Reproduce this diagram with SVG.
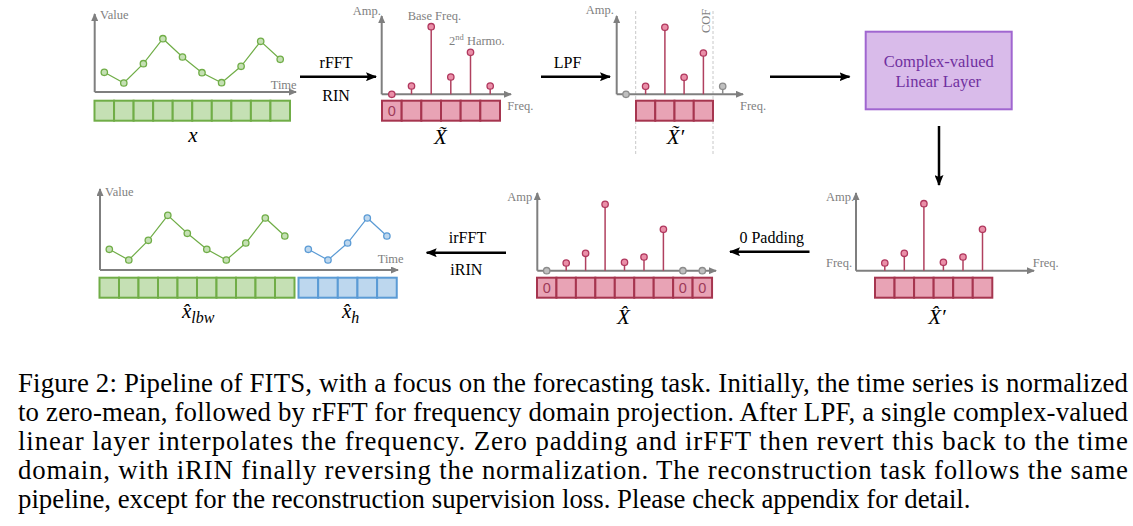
<svg xmlns="http://www.w3.org/2000/svg" width="1133" height="526" viewBox="0 0 1133 526">
<style>
.ax{stroke:#7f7f7f;stroke-width:2;fill:none}
.arr{stroke:#000;stroke-width:2.5;fill:none}
.lbl{font-family:"Liberation Serif",serif;fill:#7f7f7f;font-size:12.5px}
.op{font-family:"Liberation Serif",serif;fill:#000;font-size:16px}
.math{font-family:"Liberation Serif",serif;font-style:italic;fill:#000;font-size:21px}
.gc{fill:#c5e0b4;stroke:#70ad47;stroke-width:2}
.gp{fill:#c5e0b4;stroke:#70ad47;stroke-width:1.3}
.gl{fill:none;stroke:#70ad47;stroke-width:1.2}
.bc{fill:#bdd7ee;stroke:#5b9bd5;stroke-width:2}
.bp{fill:#bdd7ee;stroke:#5b9bd5;stroke-width:1.3}
.bl{fill:none;stroke:#5b9bd5;stroke-width:1.2}
.pc{fill:#e8a3b5;stroke:#a6354f;stroke-width:2}
.stem{stroke:#b0405f;stroke-width:1.5}
.pp{fill:#ea8fa8;stroke:#b0385e;stroke-width:1.3}
.gray{fill:#bfbfbf;stroke:#8c8c8c;stroke-width:1.3}
.zero{font-family:"Liberation Sans",sans-serif;font-size:14.5px;fill:#9e3a58;text-anchor:middle}
.cap{font-family:"Liberation Serif",serif;font-size:26.8px;fill:#000}
</style>
<defs>
<marker id="ah" viewBox="0 0 11 9" refX="10" refY="4.5" markerWidth="11" markerHeight="9" markerUnits="userSpaceOnUse" orient="auto"><path d="M0,0 L11,4.5 L0,9 L2,4.5 z" fill="#000"/></marker>
<marker id="ga" viewBox="0 0 8 7" refX="7" refY="3.5" markerWidth="8" markerHeight="7" markerUnits="userSpaceOnUse" orient="auto"><path d="M0,0 L8,3.5 L0,7 z" fill="#7f7f7f"/></marker>
</defs>

<g id="input-series">
<line class="ax" x1="94.7" y1="92" x2="94.7" y2="14" marker-end="url(#ga)"/>
<line class="ax" x1="94.7" y1="92" x2="296" y2="92" marker-end="url(#ga)"/>
<text class="lbl" x="100" y="19">Value</text>
<text class="lbl" x="270.7" y="89">Time</text>
<polyline class="gl" points="104.3,72.3 123.8,83 143.4,63.7 162.9,38.7 182.5,57 202,72.7 221.6,82.7 241.1,66.3 260.7,41.3 280.2,59.3"/>
<circle class="gp" cx="104.3" cy="72.3" r="3.2"/><circle class="gp" cx="123.8" cy="83" r="3.2"/><circle class="gp" cx="143.4" cy="63.7" r="3.2"/><circle class="gp" cx="162.9" cy="38.7" r="3.2"/><circle class="gp" cx="182.5" cy="57" r="3.2"/><circle class="gp" cx="202" cy="72.7" r="3.2"/><circle class="gp" cx="221.6" cy="82.7" r="3.2"/><circle class="gp" cx="241.1" cy="66.3" r="3.2"/><circle class="gp" cx="260.7" cy="41.3" r="3.2"/><circle class="gp" cx="280.2" cy="59.3" r="3.2"/>
<rect class="gc" x="94.5" y="100.7" width="19.55" height="20"/><rect class="gc" x="114.05" y="100.7" width="19.55" height="20"/><rect class="gc" x="133.6" y="100.7" width="19.55" height="20"/><rect class="gc" x="153.15" y="100.7" width="19.55" height="20"/><rect class="gc" x="172.7" y="100.7" width="19.55" height="20"/><rect class="gc" x="192.25" y="100.7" width="19.55" height="20"/><rect class="gc" x="211.8" y="100.7" width="19.55" height="20"/><rect class="gc" x="231.35" y="100.7" width="19.55" height="20"/><rect class="gc" x="250.9" y="100.7" width="19.55" height="20"/><rect class="gc" x="270.45" y="100.7" width="19.55" height="20"/>
<text class="math" x="192.8" y="141.5" text-anchor="middle">x</text>
</g>

<g id="rfft-spectrum">
<line class="ax" x1="381.7" y1="94.3" x2="381.7" y2="16" marker-end="url(#ga)"/>
<line class="ax" x1="381.7" y1="94.3" x2="511" y2="94.3" marker-end="url(#ga)"/>
<text class="lbl" x="352.7" y="14.7">Amp.</text>
<text class="lbl" x="407.7" y="19.5" font-size="13">Base Freq.</text>
<text class="lbl" x="449" y="45" font-size="13">2<tspan font-size="8.5" dy="-5">nd</tspan><tspan dy="5"> Harmo.</tspan></text>
<text class="lbl" x="507.3" y="110">Freq.</text>
<line class="stem" x1="411.5" y1="94.3" x2="411.5" y2="86"/><line class="stem" x1="431.2" y1="94.3" x2="431.2" y2="26.7"/><line class="stem" x1="450.8" y1="94.3" x2="450.8" y2="77"/><line class="stem" x1="470.5" y1="94.3" x2="470.5" y2="52.3"/><line class="stem" x1="490.2" y1="94.3" x2="490.2" y2="86"/>
<circle class="pp" cx="391.8" cy="94.3" r="3.2"/><circle class="pp" cx="411.5" cy="86" r="3.2"/><circle class="pp" cx="431.2" cy="26.7" r="3.2"/><circle class="pp" cx="450.8" cy="77" r="3.2"/><circle class="pp" cx="470.5" cy="52.3" r="3.2"/><circle class="pp" cx="490.2" cy="86" r="3.2"/>
<rect class="pc" x="382" y="100.7" width="19.67" height="20"/><rect class="pc" x="401.67" y="100.7" width="19.67" height="20"/><rect class="pc" x="421.33" y="100.7" width="19.67" height="20"/><rect class="pc" x="441" y="100.7" width="19.67" height="20"/><rect class="pc" x="460.67" y="100.7" width="19.67" height="20"/><rect class="pc" x="480.33" y="100.7" width="19.67" height="20"/>
<text class="zero" x="391.8" y="116">0</text>
<text class="math" x="440.5" y="144" text-anchor="middle">X&#x303;</text>
</g>

<g id="lpf-spectrum">
<line x1="635.7" y1="11" x2="635.7" y2="156" stroke="#c8c8c8" stroke-width="1" stroke-dasharray="3,2"/>
<line x1="713" y1="11" x2="713" y2="156" stroke="#c8c8c8" stroke-width="1" stroke-dasharray="3,2"/>
<line class="ax" x1="616.7" y1="94.3" x2="616.7" y2="16" marker-end="url(#ga)"/>
<line class="ax" x1="616.7" y1="94.3" x2="743" y2="94.3" marker-end="url(#ga)"/>
<text class="lbl" x="585.7" y="14">Amp.</text>
<text class="lbl" x="740" y="110">Freq.</text>
<text class="lbl" transform="translate(710,33) rotate(-90)">COF</text>
<line class="stem" x1="645.6" y1="94.3" x2="645.6" y2="86.3"/><line class="stem" x1="664.9" y1="94.3" x2="664.9" y2="27.3"/><line class="stem" x1="684.1" y1="94.3" x2="684.1" y2="77.3"/><line class="stem" x1="703.4" y1="94.3" x2="703.4" y2="53"/>
<line x1="722.7" y1="94.3" x2="722.7" y2="86.3" stroke="#8c8c8c" stroke-width="1.5"/>
<circle class="gray" cx="626" cy="94.3" r="3.2"/><circle class="pp" cx="645.6" cy="86.3" r="3.2"/><circle class="pp" cx="664.9" cy="27.3" r="3.2"/><circle class="pp" cx="684.1" cy="77.3" r="3.2"/><circle class="pp" cx="703.4" cy="53" r="3.2"/><circle class="gray" cx="722.7" cy="86.3" r="3.2"/>
<rect class="pc" x="636" y="100.7" width="19.25" height="20"/><rect class="pc" x="655.25" y="100.7" width="19.25" height="20"/><rect class="pc" x="674.5" y="100.7" width="19.25" height="20"/><rect class="pc" x="693.75" y="100.7" width="19.25" height="20"/>
<text class="math" x="675.5" y="143.5" text-anchor="middle">X&#x303;&#x2032;</text>
</g>

<g id="complex-linear-layer">
<rect x="865.7" y="31.7" width="146" height="77.6" fill="#d9bbea" stroke="#a066d0" stroke-width="2"/>
<text x="938.8" y="67.3" text-anchor="middle" font-family="Liberation Serif, serif" font-size="16.5" fill="#7030a0">Complex-valued</text>
<text x="938.3" y="86.7" text-anchor="middle" font-family="Liberation Serif, serif" font-size="16.5" fill="#7030a0">Linear Layer</text>
</g>

<g id="interpolated-spectrum">
<line class="ax" x1="856" y1="270.7" x2="856" y2="193" marker-end="url(#ga)"/>
<line class="ax" x1="856" y1="270.7" x2="1034" y2="270.7" marker-end="url(#ga)"/>
<text class="lbl" x="826" y="200.7">Amp.</text>
<text class="lbl" x="826" y="267">Freq.</text>
<text class="lbl" x="1032.7" y="267">Freq.</text>
<line class="stem" x1="884.8" y1="270.7" x2="884.8" y2="263"/><line class="stem" x1="904.3" y1="270.7" x2="904.3" y2="253.3"/><line class="stem" x1="923.9" y1="270.7" x2="923.9" y2="203.7"/><line class="stem" x1="943.4" y1="270.7" x2="943.4" y2="262.3"/><line class="stem" x1="963" y1="270.7" x2="963" y2="257"/><line class="stem" x1="982.5" y1="270.7" x2="982.5" y2="229.3"/>
<circle class="pp" cx="884.8" cy="263" r="3.2"/><circle class="pp" cx="904.3" cy="253.3" r="3.2"/><circle class="pp" cx="923.9" cy="203.7" r="3.2"/><circle class="pp" cx="943.4" cy="262.3" r="3.2"/><circle class="pp" cx="963" cy="257" r="3.2"/><circle class="pp" cx="982.5" cy="229.3" r="3.2"/>
<rect class="pc" x="875" y="277.7" width="19.55" height="20"/><rect class="pc" x="894.55" y="277.7" width="19.55" height="20"/><rect class="pc" x="914.1" y="277.7" width="19.55" height="20"/><rect class="pc" x="933.65" y="277.7" width="19.55" height="20"/><rect class="pc" x="953.2" y="277.7" width="19.55" height="20"/><rect class="pc" x="972.75" y="277.7" width="19.55" height="20"/>
<text class="math" x="937" y="324" text-anchor="middle">X&#x302;&#x2032;</text>
</g>

<g id="padded-spectrum">
<line class="ax" x1="537.3" y1="270.7" x2="537.3" y2="193" marker-end="url(#ga)"/>
<line class="ax" x1="537.3" y1="270.7" x2="716" y2="270.7" marker-end="url(#ga)"/>
<text class="lbl" x="507.3" y="200.7">Amp</text>
<line class="stem" x1="566.2" y1="270.7" x2="566.2" y2="263"/><line class="stem" x1="585.6" y1="270.7" x2="585.6" y2="253.3"/><line class="stem" x1="605.1" y1="270.7" x2="605.1" y2="204.3"/><line class="stem" x1="624.5" y1="270.7" x2="624.5" y2="262.3"/><line class="stem" x1="644" y1="270.7" x2="644" y2="257"/><line class="stem" x1="663.4" y1="270.7" x2="663.4" y2="229.3"/>
<circle class="gray" cx="546.7" cy="270.7" r="3.2"/><circle class="pp" cx="566.2" cy="263" r="3.2"/><circle class="pp" cx="585.6" cy="253.3" r="3.2"/><circle class="pp" cx="605.1" cy="204.3" r="3.2"/><circle class="pp" cx="624.5" cy="262.3" r="3.2"/><circle class="pp" cx="644" cy="257" r="3.2"/><circle class="pp" cx="663.4" cy="229.3" r="3.2"/><circle class="gray" cx="682.9" cy="270.7" r="3.2"/><circle class="gray" cx="702.3" cy="270.7" r="3.2"/>
<rect class="pc" x="537" y="277.7" width="19.45" height="20"/><rect class="pc" x="556.45" y="277.7" width="19.45" height="20"/><rect class="pc" x="575.9" y="277.7" width="19.45" height="20"/><rect class="pc" x="595.35" y="277.7" width="19.45" height="20"/><rect class="pc" x="614.8" y="277.7" width="19.45" height="20"/><rect class="pc" x="634.25" y="277.7" width="19.45" height="20"/><rect class="pc" x="653.7" y="277.7" width="19.45" height="20"/><rect class="pc" x="673.15" y="277.7" width="19.45" height="20"/><rect class="pc" x="692.6" y="277.7" width="19.45" height="20"/>
<text class="zero" x="546.7" y="293">0</text><text class="zero" x="682.9" y="293">0</text><text class="zero" x="702.3" y="293">0</text>
<text class="math" x="623.3" y="324" text-anchor="middle">X&#x302;</text>
</g>

<g id="output-series">
<line class="ax" x1="100" y1="270" x2="100" y2="189" marker-end="url(#ga)"/>
<line class="ax" x1="100" y1="270" x2="398" y2="270" marker-end="url(#ga)"/>
<text class="lbl" x="105" y="196">Value</text>
<text class="lbl" x="377.7" y="262.7">Time</text>
<polyline class="gl" points="109.3,249.3 128.8,260 148.3,240.3 167.8,215.3 187.3,233.3 206.8,249.3 226.3,260 245.8,243 265.3,218 284.8,236"/>
<circle class="gp" cx="109.3" cy="249.3" r="3.2"/><circle class="gp" cx="128.8" cy="260" r="3.2"/><circle class="gp" cx="148.3" cy="240.3" r="3.2"/><circle class="gp" cx="167.8" cy="215.3" r="3.2"/><circle class="gp" cx="187.3" cy="233.3" r="3.2"/><circle class="gp" cx="206.8" cy="249.3" r="3.2"/><circle class="gp" cx="226.3" cy="260" r="3.2"/><circle class="gp" cx="245.8" cy="243" r="3.2"/><circle class="gp" cx="265.3" cy="218" r="3.2"/><circle class="gp" cx="284.8" cy="236" r="3.2"/>
<polyline class="bl" points="308.3,249.3 328,260 347.6,243 367.3,218 386.9,236"/>
<circle class="bp" cx="308.3" cy="249.3" r="3.2"/><circle class="bp" cx="328" cy="260" r="3.2"/><circle class="bp" cx="347.6" cy="243" r="3.2"/><circle class="bp" cx="367.3" cy="218" r="3.2"/><circle class="bp" cx="386.9" cy="236" r="3.2"/>
<rect class="gc" x="99.5" y="277.7" width="19.5" height="20"/><rect class="gc" x="119" y="277.7" width="19.5" height="20"/><rect class="gc" x="138.5" y="277.7" width="19.5" height="20"/><rect class="gc" x="158" y="277.7" width="19.5" height="20"/><rect class="gc" x="177.5" y="277.7" width="19.5" height="20"/><rect class="gc" x="197" y="277.7" width="19.5" height="20"/><rect class="gc" x="216.5" y="277.7" width="19.5" height="20"/><rect class="gc" x="236" y="277.7" width="19.5" height="20"/><rect class="gc" x="255.5" y="277.7" width="19.5" height="20"/><rect class="gc" x="275" y="277.7" width="19.5" height="20"/>
<rect class="bc" x="298.5" y="277.7" width="19.65" height="20"/><rect class="bc" x="318.15" y="277.7" width="19.65" height="20"/><rect class="bc" x="337.8" y="277.7" width="19.65" height="20"/><rect class="bc" x="357.45" y="277.7" width="19.65" height="20"/><rect class="bc" x="377.1" y="277.7" width="19.65" height="20"/>
<text class="math" x="182" y="318">x&#x302;<tspan font-size="16" dy="5">lbw</tspan></text>
<text class="math" x="342" y="318">x&#x302;<tspan font-size="16" dy="5">h</tspan></text>
</g>

<g id="connectors">
<line class="arr" x1="300" y1="76.7" x2="376" y2="76.7" marker-end="url(#ah)"/>
<text class="op" x="336" y="68.3" text-anchor="middle">rFFT</text>
<text class="op" x="336" y="100.5" text-anchor="middle">RIN</text>
<line class="arr" x1="541" y1="76.7" x2="610" y2="76.7" marker-end="url(#ah)"/>
<text class="op" x="567.5" y="68.3" text-anchor="middle">LPF</text>
<line class="arr" x1="770" y1="76.7" x2="849.5" y2="76.7" marker-end="url(#ah)"/>
<line class="arr" x1="939" y1="126" x2="939" y2="185" marker-end="url(#ah)"/>
<line class="arr" x1="809.5" y1="251.7" x2="730" y2="251.7" marker-end="url(#ah)"/>
<text class="op" x="771.7" y="242.7" text-anchor="middle">0 Padding</text>
<line class="arr" x1="506" y1="252.7" x2="426.7" y2="252.7" marker-end="url(#ah)"/>
<text class="op" x="467.5" y="242.7" text-anchor="middle">irFFT</text>
<text class="op" x="466.3" y="275" text-anchor="middle">iRIN</text>
</g>

<g id="caption">
<text class="cap" x="18" y="391.5" textLength="1110" lengthAdjust="spacing">Figure 2: Pipeline of FITS, with a focus on the forecasting task. Initially, the time series is normalized</text>
<text class="cap" x="18" y="420.5" textLength="1110" lengthAdjust="spacing">to zero-mean, followed by rFFT for frequency domain projection. After LPF, a single complex-valued</text>
<text class="cap" x="18" y="449.5" textLength="1110" lengthAdjust="spacing">linear layer interpolates the frequency. Zero padding and irFFT then revert this back to the time</text>
<text class="cap" x="18" y="478.5" textLength="1110" lengthAdjust="spacing">domain, with iRIN finally reversing the normalization. The reconstruction task follows the same</text>
<text class="cap" x="18" y="507.5">pipeline, except for the reconstruction supervision loss. Please check appendix for detail.</text>
</g>
</svg>
